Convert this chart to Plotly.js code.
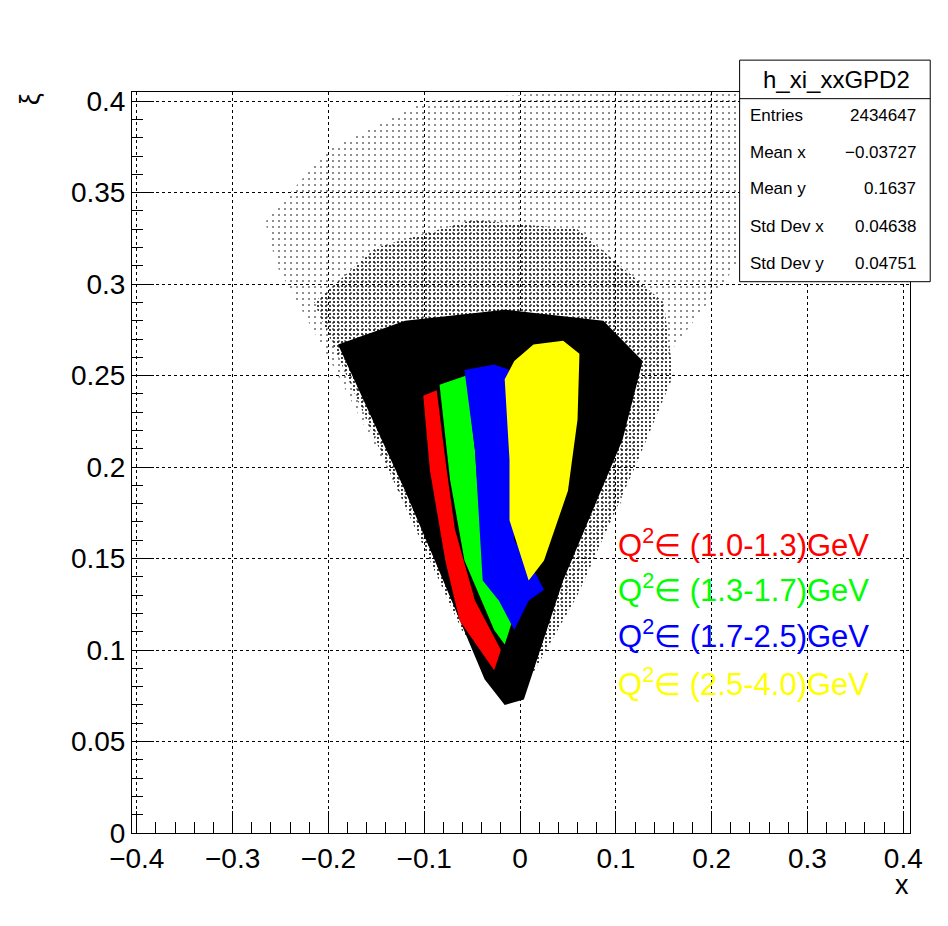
<!DOCTYPE html>
<html>
<head>
<script src="https://cdn.plot.ly/plotly-3.0.1.min.js"></script>
<style>body{margin:0;background:#fff}</style>
</head>
<body>
<div id="chart" style="width:948px;height:926px"></div>
<script>
// outlines of the populated regions (x, xi)
const sparseX = [-0.266, -0.202, -0.099, 0.045, 0.241, 0.23, 0.138, 0.107, 0.045, -0.011, -0.12, -0.2, -0.254];
const sparseY = [0.334, 0.373, 0.400, 0.405, 0.405, 0.313, 0.250, 0.182, 0.127, 0.070, 0.180, 0.260, 0.310];

const midX = [-0.215, -0.15, -0.05, 0.06, 0.15, 0.16, 0.12, 0.06, 0.0, -0.06, -0.13];
const midY = [0.290, 0.320, 0.335, 0.330, 0.290, 0.250, 0.200, 0.130, 0.075, 0.110, 0.190];

const coreX = [-0.19, -0.12, -0.089, -0.037, -0.016, 0.004, 0.045, 0.107, 0.128, 0.087, -0.016, -0.12];
const coreY = [0.267, 0.187, 0.149, 0.084, 0.070, 0.073, 0.138, 0.215, 0.258, 0.280, 0.286, 0.280];

const redX = [-0.101, -0.094, -0.078, -0.063, -0.027, -0.020, -0.047, -0.068, -0.078, -0.087];
const redY = [0.239, 0.198, 0.149, 0.116, 0.089, 0.100, 0.127, 0.166, 0.204, 0.242];

const greenX = [-0.084, -0.073, -0.058, -0.027, -0.016, -0.008, -0.027, -0.042, -0.047, -0.056];
const greenY = [0.245, 0.193, 0.149, 0.111, 0.103, 0.116, 0.133, 0.171, 0.209, 0.250];

const blueX = [-0.058, -0.047, -0.039, -0.022, -0.006, 0.009, 0.025, 0.014, -0.006, -0.011, -0.011, -0.027];
const blueY = [0.253, 0.209, 0.138, 0.127, 0.111, 0.127, 0.133, 0.144, 0.160, 0.209, 0.253, 0.256];

const yellowX = [-0.016, -0.011, -0.011, 0.009, 0.025, 0.050, 0.060, 0.062, 0.045, 0.014, -0.006];
const yellowY = [0.248, 0.204, 0.171, 0.138, 0.149, 0.187, 0.226, 0.262, 0.269, 0.267, 0.258];

const legendText = ['Q<sup>2</sup>\u2208 (1.0-1.3)GeV', 'Q<sup>2</sup>\u2208 (1.3-1.7)GeV',
                    'Q<sup>2</sup>\u2208 (1.7-2.5)GeV', 'Q<sup>2</sup>\u2208 (2.5-4.0)GeV'];
const legendColors = ['#ff0000', '#00ff00', '#0000ff', '#ffff00'];

const statNames = ['Entries', 'Mean x', 'Mean y', 'Std Dev x', 'Std Dev y'];
const statValues = ['2434647', '\u22120.03727', '0.1637', '0.04638', '0.04751'];

function region(x, y, color) {
    return {x: x, y: y, mode: 'none', fill: 'toself', fillcolor: color,
            hoverinfo: 'skip', showlegend: false, type: 'scatter'};
}

function dotted(x, y, size, solidity) {
    return {x: x, y: y, mode: 'none', fill: 'toself', fillcolor: 'rgba(0,0,0,0)',
            fillpattern: {shape: '.', fgcolor: '#000', bgcolor: 'rgba(0,0,0,0)', size: size, solidity: solidity},
            hoverinfo: 'skip', showlegend: false, type: 'scatter'};
}

const traces = [
    dotted(sparseX, sparseY, 6, 0.06),
    dotted(midX, midY, 4, 0.2),
    region(coreX, coreY, '#000'),
    region(redX, redY, legendColors[0]),
    region(greenX, greenY, legendColors[1]),
    region(blueX, blueY, legendColors[2]),
    region(yellowX, yellowY, legendColors[3]),
];

const font = 'Liberation Sans, Arial, sans-serif';
const annotations = [];
legendText.forEach((t, i) => {
    annotations.push({xref: 'paper', yref: 'paper', x: 0.622, y: [0.391, 0.331, 0.269, 0.204][i],
        xanchor: 'left', yanchor: 'middle', showarrow: false, text: t,
        font: {family: font, size: 31, color: legendColors[i]}});
});
annotations.push({xref: 'paper', yref: 'paper', x: 0.905, y: 1.017, xanchor: 'center', yanchor: 'middle',
    showarrow: false, text: 'h_xi_xxGPD2', font: {family: font, size: 24, color: '#000'}});
const statY = [0.968, 0.918, 0.870, 0.818, 0.769];
statNames.forEach((n, i) => {
    annotations.push({xref: 'paper', yref: 'paper', x: 0.792, y: statY[i], xanchor: 'left', yanchor: 'middle',
        showarrow: false, text: n, font: {family: font, size: 17, color: '#000'}});
    annotations.push({xref: 'paper', yref: 'paper', x: 1.010, y: statY[i], xanchor: 'right', yanchor: 'middle',
        showarrow: false, text: statValues[i], font: {family: font, size: 17, color: '#000'}});
});
annotations.push({xref: 'paper', yref: 'paper', x: 0.99, y: -0.07, xanchor: 'center', yanchor: 'middle',
    showarrow: false, text: 'x', font: {family: font, size: 27, color: '#000'}});
annotations.push({xref: 'paper', yref: 'paper', x: -0.13, y: 0.99, xanchor: 'center', yanchor: 'middle',
    showarrow: false, textangle: -90, text: '\u03be', font: {family: font, size: 27, color: '#000'}});

const axisCommon = {
    showgrid: true, gridcolor: '#000', griddash: 'dot', gridwidth: 1,
    zeroline: false, showline: true, linecolor: '#000', mirror: true,
    ticks: 'inside', ticklen: 22, tickcolor: '#000',
    minor: {ticks: 'inside', ticklen: 11, tickcolor: '#000', showgrid: false},
    tickfont: {family: font, size: 28, color: '#000'},
};

const layout = {
    width: 948, height: 926,
    margin: {l: 132, r: 38, t: 92, b: 93},
    paper_bgcolor: '#fff', plot_bgcolor: '#fff',
    xaxis: Object.assign({}, axisCommon, {range: [-0.405, 0.407], dtick: 0.1, tick0: 0,
        minor: Object.assign({}, axisCommon.minor, {dtick: 0.02})}),
    yaxis: Object.assign({}, axisCommon, {range: [0, 0.405], dtick: 0.05, tick0: 0,
        minor: Object.assign({}, axisCommon.minor, {dtick: 0.01})}),
    shapes: [
        {type: 'rect', xref: 'paper', yref: 'paper', x0: 0.781, x1: 1.026, y0: 0.744, y1: 1.043,
         fillcolor: '#fff', line: {color: '#000', width: 1}, layer: 'above'},
        {type: 'line', xref: 'paper', yref: 'paper', x0: 0.781, x1: 1.026, y0: 0.991, y1: 0.991,
         line: {color: '#000', width: 1}, layer: 'above'},
    ],
    annotations: annotations,
    showlegend: false,
};

Plotly.newPlot('chart', traces, layout, {displayModeBar: false, staticPlot: true});
</script>
</body>
</html>
